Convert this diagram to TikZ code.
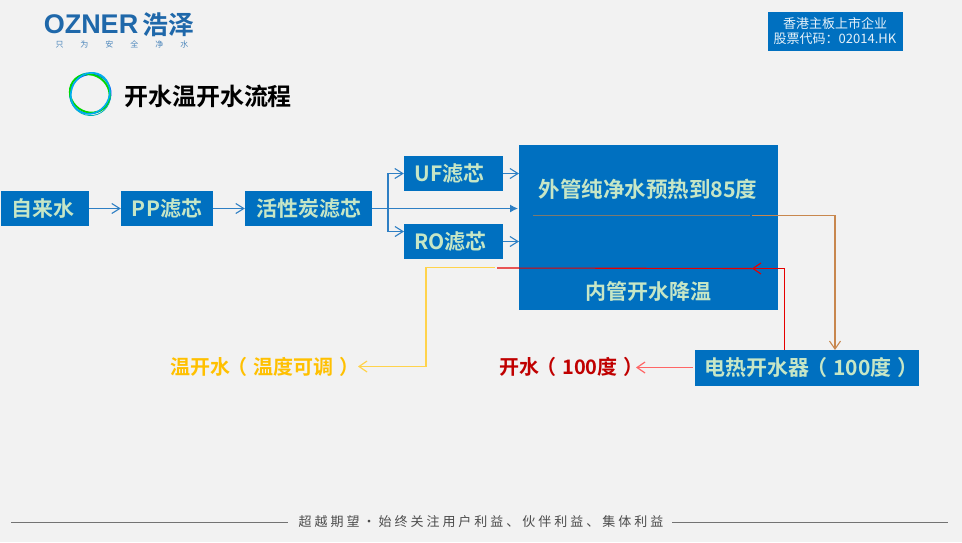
\documentclass[tikz,border=0pt]{standalone}
\usepackage{fontspec}
\usepackage{xcolor}
\setmainfont{Noto Sans CJK SC}[BoldFont={Noto Sans CJK SC Bold}]
\newfontfamily\logofont{Liberation Sans}[BoldFont={Liberation Sans Bold}]
\newfontfamily\footfont{Noto Sans CJK SC}[LetterSpace=23]
\usetikzlibrary{arrows.meta}
\definecolor{panel}{HTML}{F2F2F2}
\definecolor{boxblue}{HTML}{0070C0}
\definecolor{boxtext}{HTML}{C6E6C6}
\definecolor{flowblue}{HTML}{2E7FC4}
\definecolor{hotred}{HTML}{C00000}
\definecolor{warmyellow}{HTML}{FFC000}
\definecolor{logoblue}{HTML}{1F68AA}
\definecolor{feedbrown}{HTML}{C8874E}
\definecolor{feedgrey}{HTML}{7C7A70}
\newcommand{\openp}{\kern0.1em\kern-0.25em（\kern0.25em\kern0.05em}
\newcommand{\closep}{\kern0.05em\kern0.25em）\kern-0.25em}
\tikzset{
  flowbox/.style={fill=boxblue,text=boxtext,font=\fontsize{21}{21}\selectfont\bfseries,inner sep=0pt},
  flow/.style={draw=flowblue,line width=1.1pt,-{Straight Barb[length=8pt,width=10pt]}},
  hotline/.style={draw=red!90!black,line width=1.1pt},
  warmline/.style={draw=warmyellow!70,line width=1.2pt},
  feedline/.style={draw=feedbrown,line width=1.1pt},
  barb/.style={-{Straight Barb[length=8pt,width=11pt]}}
}
\begin{document}
\begin{tikzpicture}[x=1pt,y=-1pt]
    \fill[panel] (0,0) rectangle (962,542);
    \useasboundingbox (0,0) rectangle (962,542);
    % header
    \node[text=logoblue,font=\logofont\fontsize{27}{27}\selectfont\bfseries,inner sep=0pt] (brand) at (91,24.5) {OZNER};
    \node[text=logoblue,font=\fontsize{26}{26}\selectfont\bfseries,inner sep=0pt] (brandcn) at (168,25) {浩泽};
    \node[text=logoblue!80,font=\fontsize{8}{8}\selectfont,inner sep=0pt] (slogan) at (122,44.5) {只\hspace{17pt}为\hspace{17pt}安\hspace{17pt}全\hspace{17pt}净\hspace{17pt}水};
    \node[fill=boxblue,text=white!90!boxblue,font=\fontsize{13}{15}\selectfont,inner sep=0pt,minimum width=135,minimum height=39,align=center] (badge) at (835,31.5) {香港主板上市企业\\股票代码：02014.HK};
    % ring
    \draw[blue!70!cyan,line width=1.2pt,rotate around={20:(90.5,94)}] (90.5,94) ellipse (20.5 and 19.5);
    \draw[teal!60!cyan,line width=0.8pt,rotate around={-70:(90.5,94)}] (90.5,94.5) ellipse (21.5 and 20.5);
    \draw[green!85!black,line width=1.8pt,rotate around={-35:(90.5,94)}] (89.5,94) ellipse (20.5 and 18.5);
    \draw[cyan,line width=1.6pt,rotate around={60:(90.5,94)}] (91,93.5) ellipse (21 and 19);
    \node[text=black,font=\fontsize{24}{24}\selectfont\bfseries,inner sep=0pt] (title) at (208,96) {开水温开水流程};
    % filter chain
    \node[flowbox,minimum width=88,minimum height=35] (tap) at (45,208.5) {\hspace*{-3pt}自来水};
    \node[flowbox,minimum width=92,minimum height=35] (pp) at (167,208.5) {PP滤芯};
    \node[flowbox,minimum width=127,minimum height=35] (carbon) at (308.5,208.5) {活性炭滤芯};
    \node[flowbox,minimum width=99,minimum height=35] (uf) at (453.5,173.5) {\hspace*{-8pt}UF滤芯};
    \node[flowbox,minimum width=99,minimum height=35] (ro) at (453.5,241.5) {\hspace*{-6pt}RO滤芯};
    \node[flowbox,minimum width=259,minimum height=165] (pipe) at (648.5,227.5) {};
    \node[flowbox,font=\fontsize{21.5}{22}\selectfont\bfseries] (outer) at (648,189) {外管纯净水预热到85度};
    \node[flowbox,fill=none] (inner) at (648,291) {内管开水降温};
    \node[flowbox,minimum width=224,minimum height=36] (heater) at (807,368) {\hspace*{4pt}电热开水器\openp 100度\closep};
    \node[text=hotred,font=\fontsize{20}{20}\selectfont\bfseries,inner sep=0pt] (boil) at (569,367) {开水\openp 100度\closep};
    \node[text=warmyellow,font=\fontsize{20}{20}\selectfont\bfseries,inner sep=0pt] (warm) at (262,366.5) {温开水\openp 温度可调\closep};
    % points on the lines
    \coordinate (fork) at (388,208.5);
    \coordinate (roin) at (404,231.5);
    \coordinate (mid) at (518,208.5);
    \coordinate (ufout) at (519,173.5);
    \coordinate (roout) at (519,241.5);
    \coordinate (hotin) at (752,268.5);
    \coordinate (hotup) at (784.5,350);
    \coordinate (hotend) at (497,268);
    \coordinate (warmstart) at (495,267.5);
    \coordinate (warmtip) at (358,366.5);
    \coordinate (feedstart) at (533,215.5);
    \coordinate (feedgap) at (750,215.5);
    \coordinate (feedout) at (752,215.5);
    \coordinate (feedin) at (835,350);
    \coordinate (boiltip) at (636,367.5);
    \coordinate (boilout) at (693,367.5);
    % connectors
    \draw[flow] (tap) -- (pp);
    \draw[flow] (pp) -- (carbon);
    \draw[draw=flowblue,line width=1.1pt,-{Latex[length=8pt,width=8pt]}] (carbon) -- (mid);
    \draw[flow] (fork) |- (uf);
    \draw[flow] (fork) |- (roin);
    \draw[flow] (uf) -- (ufout);
    \draw[flow] (ro) -- (roout);
    \draw[draw=feedgrey,line width=1.2pt] (feedstart) -- (feedgap);
    \draw[feedline,barb] (feedout) -| (feedin);
    \draw[hotline,barb] (hotup) |- (hotin);
    \draw[hotline] (hotin) -- (hotend);
    \draw[warmline,barb] (warmstart) -| (426,366.5) -- (warmtip);
    \draw[draw=red!60,line width=1.2pt,barb] (boilout) -- (boiltip);
    % footer
    \node[text=black!70,font=\footfont\fontsize{13}{13}\selectfont,inner sep=0pt] (motto) at (481,522) {超越期望·始终关注用户利益、伙伴利益、集体利益};
    \coordinate (footl) at (11,522);
    \coordinate (footr) at (948,522);
    \draw[black!55,line width=0.8pt] (footl) -- (288,522);
    \draw[black!55,line width=0.8pt] (672,522) -- (footr);
  \end{tikzpicture}
\end{document}
